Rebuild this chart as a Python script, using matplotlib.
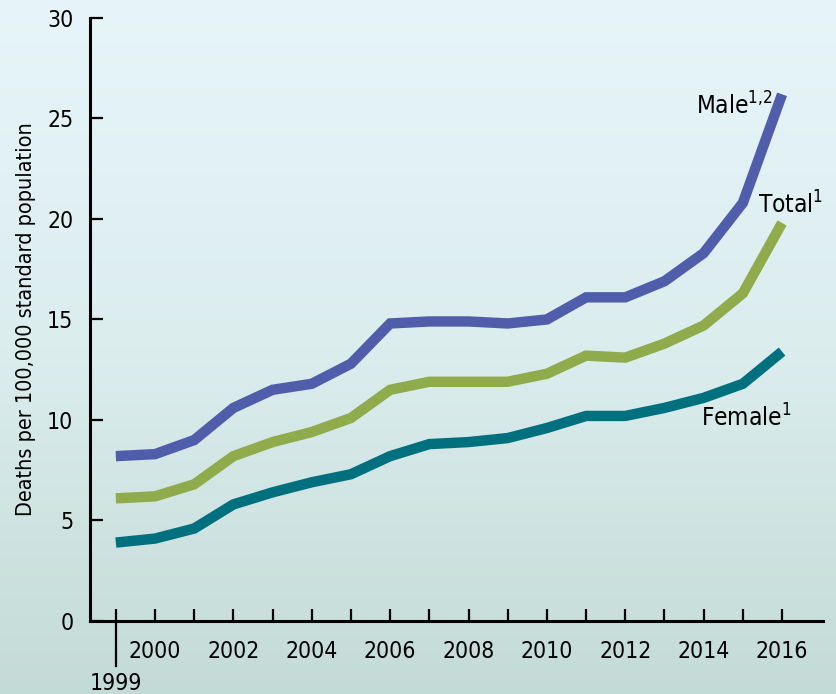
import numpy as np
import matplotlib
matplotlib.use("Agg")
import matplotlib.pyplot as plt
from matplotlib.colors import LinearSegmentedColormap

# ============================================================
# Data: death rates per 100,000 standard population
# ============================================================
years  = list(range(1999, 2017))
male   = [8.2, 8.3, 9.0, 10.6, 11.5, 11.8, 12.8, 14.8, 14.9, 14.9,
          14.8, 15.0, 16.1, 16.1, 16.9, 18.3, 20.8, 26.2]
total  = [6.1, 6.2, 6.8, 8.2, 8.9, 9.4, 10.1, 11.5, 11.9, 11.9,
          11.9, 12.3, 13.2, 13.1, 13.8, 14.7, 16.3, 19.8]
female = [3.9, 4.1, 4.6, 5.8, 6.4, 6.9, 7.3, 8.2, 8.8, 8.9,
          9.1, 9.6, 10.2, 10.2, 10.6, 11.1, 11.8, 13.4]

y_ticks = [0, 5, 10, 15, 20, 25, 30]
x_labels = [str(y) if y % 2 == 0 else "" for y in years]

MALE_COL   = "#505dab"
TOTAL_COL  = "#8fab4b"
FEMALE_COL = "#00707f"

# condensed face to stand in for the narrow Helvetica of the original
plt.rcParams["font.family"] = ["DejaVu Sans"]
plt.rcParams["font.stretch"] = "condensed"
plt.rcParams["mathtext.fontset"] = "custom"
plt.rcParams["mathtext.rm"] = "DejaVu Sans:stretch=condensed"

fig = plt.figure(figsize=(8.37, 6.94), dpi=100)

# background gradient (light blue top -> grey-green bottom)
bg_ax = fig.add_axes([0, 0, 1, 1], zorder=-10)
cmap = LinearSegmentedColormap.from_list("bg", ["#e7f5fa", "#dcedee", "#c3dbd6"])
bg_ax.imshow(np.linspace(0, 1, 256).reshape(-1, 1), aspect="auto", cmap=cmap,
             extent=[0, 1, 0, 1])
bg_ax.axis("off")

ax = fig.add_axes([0.1075, 0.1052, 0.876, 0.869])
ax.patch.set_alpha(0)

for vals, col in [(male, MALE_COL), (total, TOTAL_COL), (female, FEMALE_COL)]:
    ax.plot(years, vals, color=col, lw=7.5, solid_joinstyle="miter",
            solid_capstyle="butt", zorder=3)

ax.set_xlim(1998.34, 2017.05)
ax.set_ylim(0, 30)
ax.set_yticks(y_ticks)
ax.set_xticks(years)
ax.set_xticklabels(x_labels)

for s in ["top", "right"]:
    ax.spines[s].set_visible(False)
for s in ["left", "bottom"]:
    ax.spines[s].set_linewidth(2.2)

ax.tick_params(axis="both", direction="in", length=9, width=1.6,
               labelsize=16.5, colors="black")
ax.tick_params(axis="x", pad=14)
ax.tick_params(axis="y", pad=12)

# 1999 marker: line below axis + label
ax.plot([1999, 1999], [0, -2.25], color="black", lw=1.6, clip_on=False)
ax.text(1999, -3.1, "1999", ha="center", va="center", fontsize=16.5)

ax.set_ylabel("Deaths per 100,000 standard population", fontsize=15.5, labelpad=8)

# series labels
ax.text(2015.75, 25.6, r"Male$^{1{,}2}$", ha="right", va="center", fontsize=17.5)
ax.text(2017.05, 20.7, r"Total$^{1}$", ha="right", va="center", fontsize=17.5)
ax.text(2016.25, 10.1, r"Female$^{1}$", ha="right", va="center", fontsize=17.5)

fig.savefig("out.png", dpi=100)
